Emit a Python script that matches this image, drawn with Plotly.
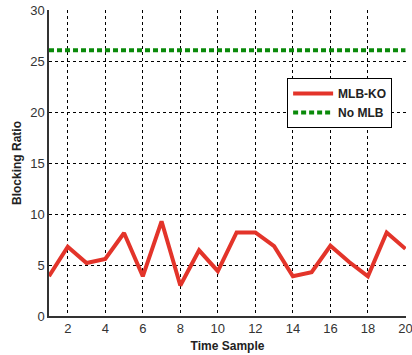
import plotly.graph_objects as go

time_sample = list(range(1, 21))
mlb_ko = [3.9, 6.8, 5.2, 5.6, 8.15, 3.9, 9.3, 3.0, 6.45, 4.4,
          8.2, 8.2, 6.85, 3.9, 4.3, 6.9, 5.3, 3.9, 8.2, 6.6]
no_mlb = [26.1] * 20

FONT = "Arial, Liberation Sans, sans-serif"

fig = go.Figure()
fig.add_trace(go.Scatter(x=time_sample, y=mlb_ko, mode="lines", name="<b>MLB-KO</b>",
                         line=dict(color="#e3342a", width=4)))
fig.add_trace(go.Scatter(x=time_sample, y=no_mlb, mode="lines", name="<b>No MLB</b>",
                         line=dict(color="#0a8a0a", width=4, dash="5px,3px")))

grid = dict(showgrid=True, gridcolor="black", gridwidth=1, griddash="3px,3px",
            showline=True, linecolor="#333333", linewidth=1.5, ticks="",
            tickfont=dict(family=FONT, size=13, color="#333333"),
            ticklabeloverflow="allow", automargin=False,
            zeroline=False)

fig.update_layout(
    width=412, height=355,
    margin=dict(l=49, r=6, t=10, b=39),
    paper_bgcolor="white", plot_bgcolor="white",
    showlegend=True,
    legend=dict(x=0.667, y=0.778, xanchor="left", yanchor="top",
                bordercolor="black", borderwidth=1, bgcolor="white",
                font=dict(family=FONT, size=12, color="#222222"),
                tracegroupgap=2, itemwidth=40),
    xaxis=dict(range=[1, 20.03], tickvals=[2, 4, 6, 8, 10, 12, 14, 16, 18, 20],
               title=dict(text="<b>Time Sample</b>", standoff=6,
                          font=dict(family=FONT, size=12, color="#222222")),
               **grid),
    yaxis=dict(range=[0, 30.05], tickvals=[0, 5, 10, 15, 20, 25, 30],
               title=dict(text="<b>Blocking Ratio</b>", standoff=6,
                          font=dict(family=FONT, size=12, color="#222222")),
               **grid),
)

fig.write_html("out.html")
